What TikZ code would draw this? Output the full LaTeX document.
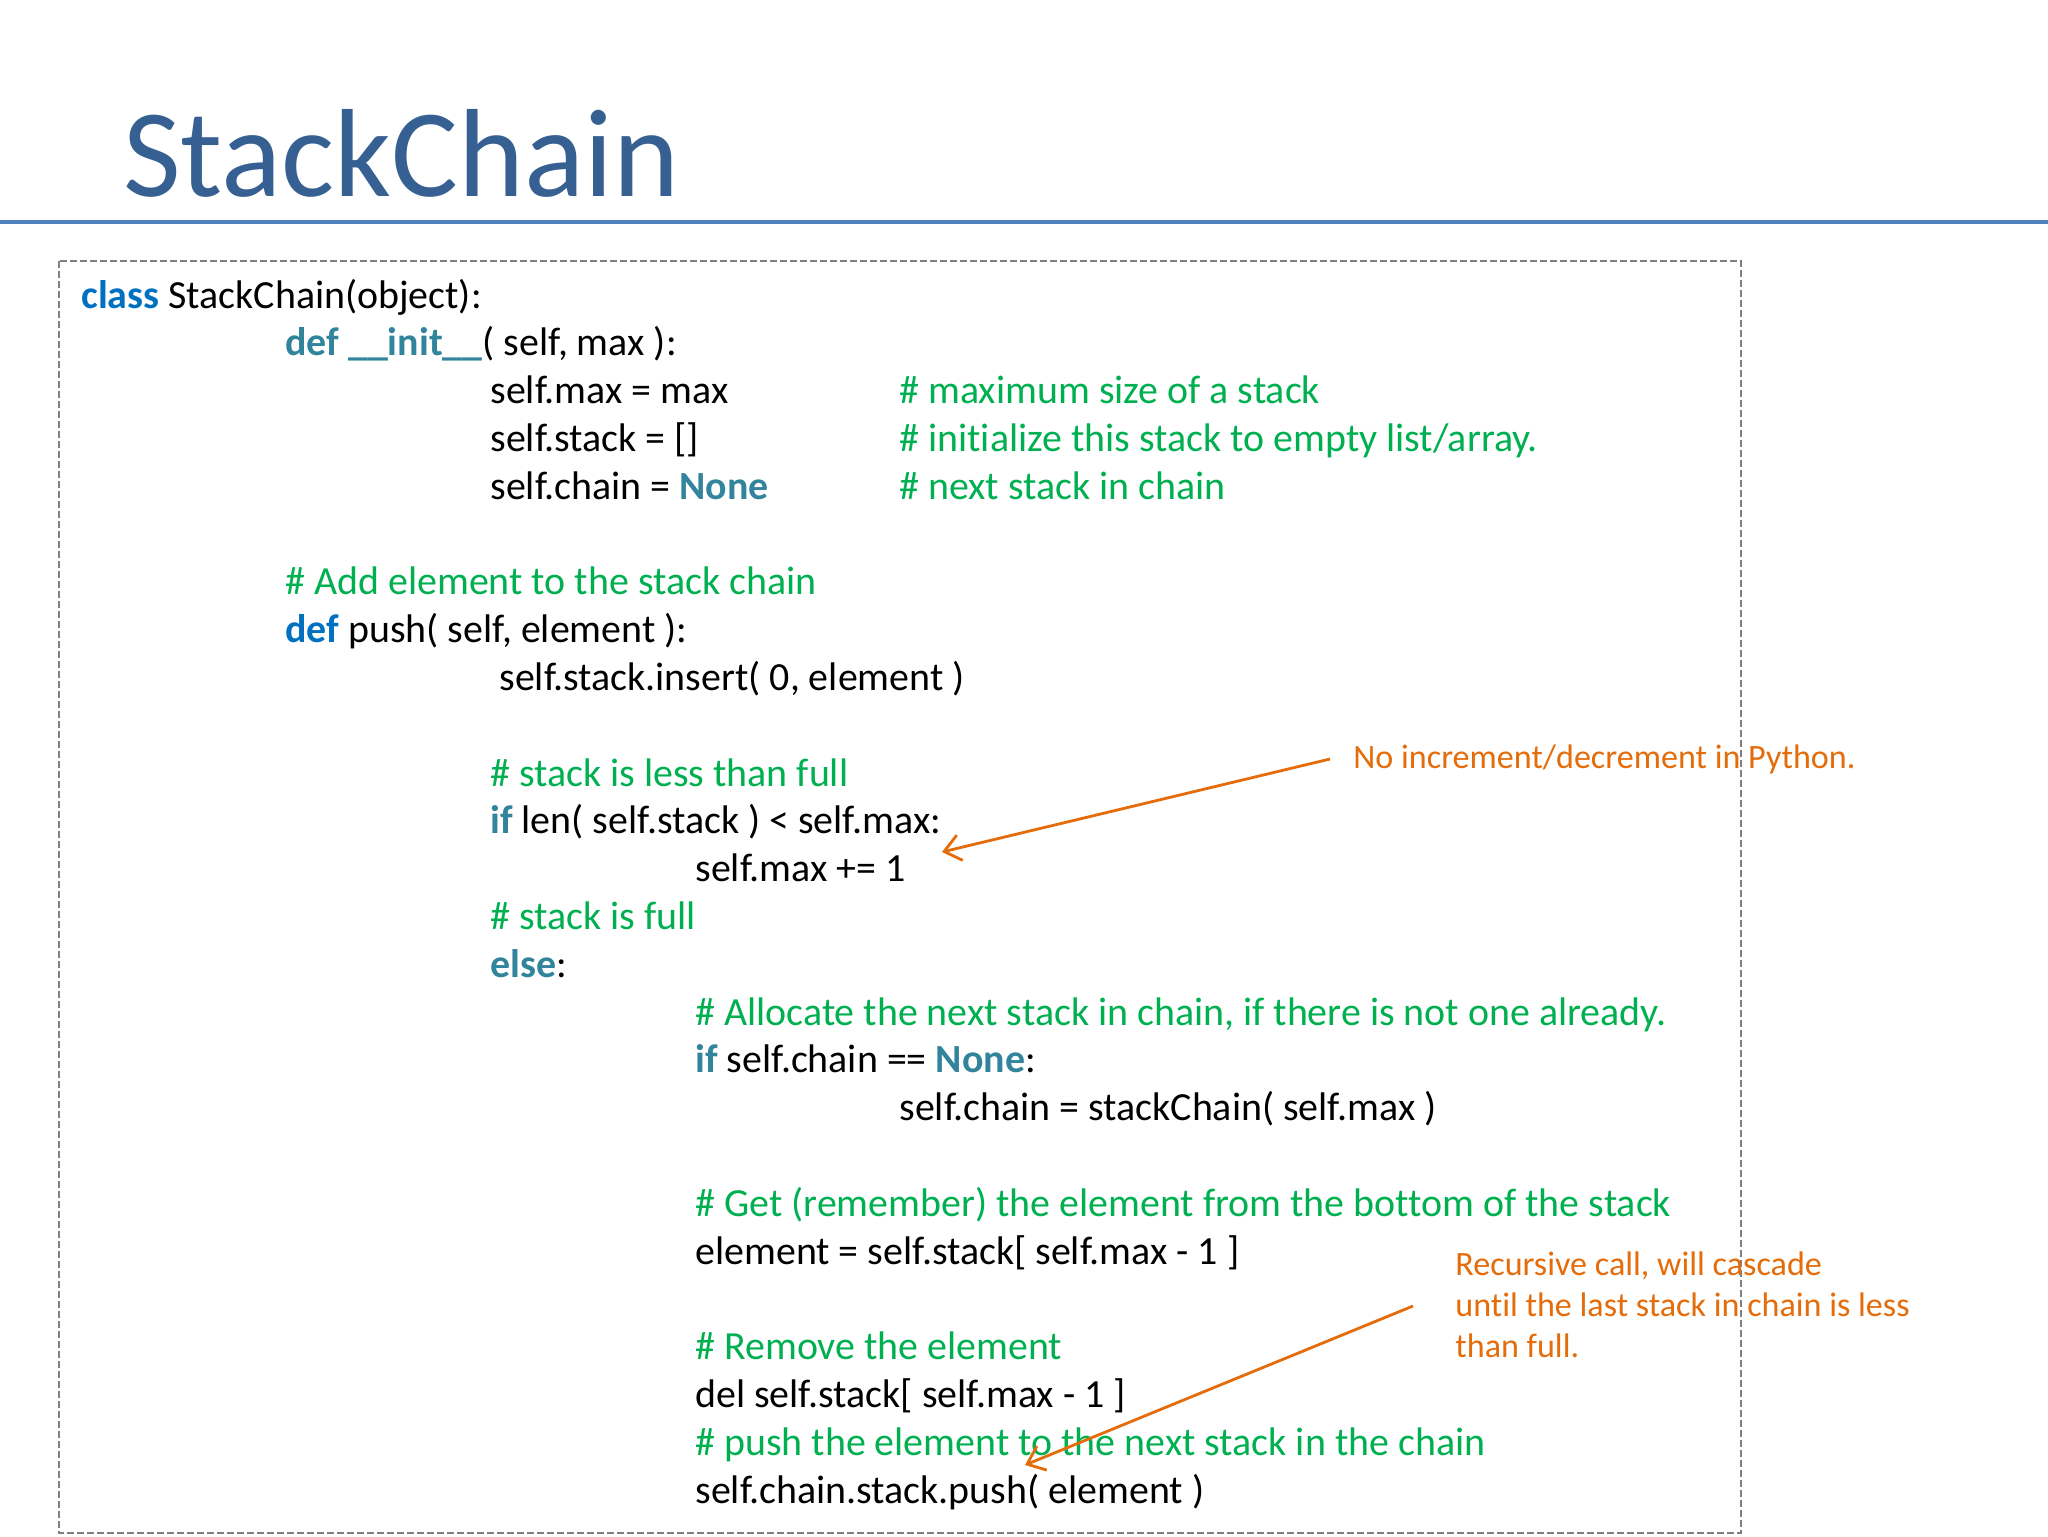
\documentclass[tikz,border=0pt]{standalone}
\usepackage{fontspec}
\setmainfont{Carlito}[Ligatures={NoCommon}]
\usetikzlibrary{arrows.meta}
\definecolor{titleblue}{RGB}{55,96,146}
\definecolor{ruleblue}{RGB}{79,129,189}
\definecolor{kwblue}{RGB}{0,112,192}
\definecolor{kwteal}{RGB}{49,132,155}
\definecolor{cmtgreen}{RGB}{0,176,80}
\definecolor{noteorange}{RGB}{228,108,10}
\definecolor{boxgray}{RGB}{127,127,127}
\newcommand{\kwb}[1]{\textbf{\textcolor{kwblue}{#1}}}
\newcommand{\kwt}[1]{\textbf{\textcolor{kwteal}{#1}}}
\tikzset{
  code/.style={anchor=base west, inner sep=0pt, font=\fontsize{19.95}{24}\selectfont, text=black},
  cmt/.style={code, text=cmtgreen},
  note/.style={anchor=base west, inner sep=0pt, font=\fontsize{17.05}{20.5}\selectfont, text=noteorange},
  notearrow/.style={draw=noteorange, line width=1.4pt, -{Straight Barb[length=8pt,width=13pt,line width=1.4pt]}},
}
\begin{document}
\begin{tikzpicture}[x=0.5pt,y=-0.5pt]
\useasboundingbox (0,0) rectangle (2048,1536);
% title and rule
\node[anchor=base west, inner sep=0pt, text=titleblue, font=\fontsize{62.7}{70}\selectfont] (title) at (123,196) {StackChain};
\draw[ruleblue, line width=2pt] (0,222) -- (2048,222);
% dashed frame
\draw[boxgray, line width=0.75pt, dash pattern=on 3.5pt off 1.5pt] (59,261) rectangle (1741,1533);
% code
\node[code] (l0) at (81,308) {\kwb{class} StackChain(object):};
\node[code] (l1) at (285,355.8) {\kwt{def \_\_init\_\_}( self, max ):};
\node[code] (l2) at (490,403.6) {self.max = max};
\node[cmt] (c2) at (899,403.6) {\# maximum size of a stack};
\node[code] (l3) at (490,451.4) {self.stack = []};
\node[cmt] (c3) at (899,451.4) {\# initialize this stack to empty list/array.};
\node[code] (l4) at (490,499.2) {self.chain = \kwt{None}};
\node[cmt] (c4) at (899,499.2) {\# next stack in chain};
\node[cmt] (l6) at (285,594.8) {\# Add element to the stack chain};
\node[code] (l7) at (285,642.6) {\kwb{def} push( self, element ):};
\node[code] (l8) at (499,690.4) {self.stack.insert( 0, element )};
\node[cmt] (l10) at (490,786) {\# stack is less than full};
\node[code] (l11) at (490,833.8) {\kwt{if} len( self.stack ) < self.max:};
\node[code] (l12) at (695,881.6) {self.max += 1};
\node[cmt] (l13) at (490,929.4) {\# stack is full};
\node[code] (l14) at (490,977.2) {\kwt{else}:};
\node[cmt] (l15) at (695,1025) {\# Allocate the next stack in chain, if there is not one already.};
\node[code] (l16) at (695,1072.8) {\kwt{if} self.chain == \kwt{None}:};
\node[code] (l17) at (899,1120.6) {self.chain = stackChain( self.max )};
\node[cmt] (l19) at (695,1216.2) {\# Get (remember) the element from the bottom of the stack};
\node[code] (l20) at (695,1264) {element = self.stack[ self.max - 1 ]};
\node[cmt] (l22) at (695,1359.6) {\# Remove the element};
\node[code] (l23) at (695,1407.4) {del self.stack[ self.max - 1 ]};
\node[cmt] (l24) at (695,1455.2) {\# push the element to the next stack in the chain};
\node[code] (l25) at (695,1503) {self.chain.stack.push( element )};
% notes
\node[note] (n1) at (1353,768) {No increment/decrement in Python.};
\node[note] (n2a) at (1455,1275) {Recursive call, will cascade};
\node[note] (n2b) at (1455,1316) {until the last stack in chain is less};
\node[note] (n2c) at (1455,1357) {than full.};
\coordinate (t1) at (1330,759);
\coordinate (h1) at (942,852);
\coordinate (t2) at (1413,1306);
\coordinate (h2) at (1025,1465);
\draw[notearrow] (t1) -- (h1);
\draw[notearrow] (t2) -- (h2);
\end{tikzpicture}
\end{document}
